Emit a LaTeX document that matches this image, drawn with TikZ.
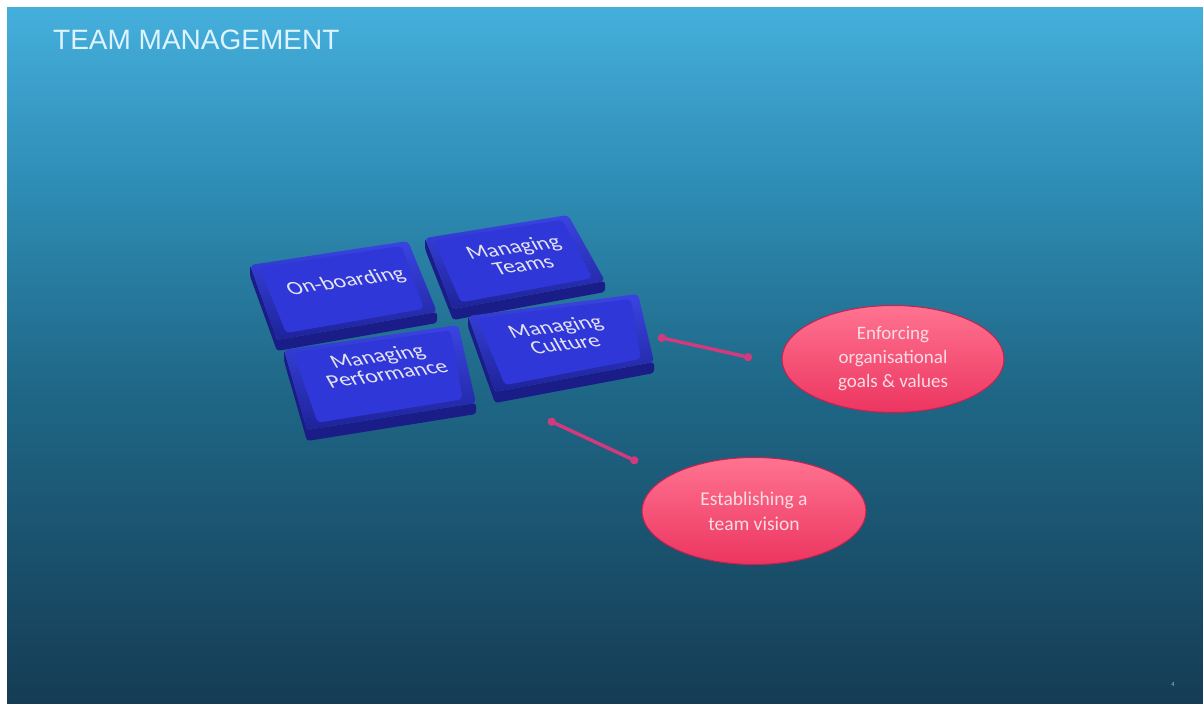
\documentclass[tikz,border=0pt]{standalone}
\usepackage{fontspec}
\setmainfont{Carlito}
\newfontfamily\titlefont{Liberation Sans}
\usetikzlibrary{shapes.geometric,arrows.meta,calc}

\definecolor{bgtop}{HTML}{45AFDC}
\definecolor{bgup}{HTML}{2E8CB4}
\definecolor{bgmid}{HTML}{1F6888}
\definecolor{bgbot}{HTML}{153C54}
\definecolor{slabtopc}{HTML}{3037D8}
\definecolor{slabedgehi}{HTML}{3A44E2}
\definecolor{slabedgelo}{HTML}{1E2399}
\definecolor{slabsidec}{HTML}{1A1D88}
\definecolor{slabtxt}{HTML}{E4E4F0}
\definecolor{ellhi}{HTML}{FF7390}
\definecolor{elllo}{HTML}{EC3560}
\definecolor{ellborder}{HTML}{C8204F}
\definecolor{elltxt}{HTML}{FADCE4}
\definecolor{conncol}{HTML}{D23A7E}
\definecolor{titlecol}{HTML}{DDF3FF}
\definecolor{numcol}{HTML}{8FBCD2}

\pgfdeclareverticalshading{slidebg}{100bp}{color(0bp)=(bgbot); color(25bp)=(bgbot); color(48bp)=(bgmid); color(62bp)=(bgup); color(75bp)=(bgtop); color(100bp)=(bgtop)}

\newcommand\slab[6]{%
  \coordinate (#1-tl) at #2;
  \coordinate (#1-tr) at #3;
  \coordinate (#1-br) at #4;
  \coordinate (#1-bl) at #5;
  \fill[slabside] (#1-tl) -- (#1-bl) -- (#1-br) -- ($(#1-br)+(0,#6)$) -- ($(#1-bl)+(0,#6)$) -- ($(#1-tl)+(0,#6)$) -- cycle;
  \path[slabedge] (#1-tl) -- (#1-tr) -- (#1-br) -- (#1-bl) -- cycle;
  \fill[slabtop] ($(#1-tl)!0.05!(#1-br)$) -- ($(#1-tr)!0.05!(#1-bl)$) -- ($(#1-br)!0.07!(#1-tl)$) -- ($(#1-bl)!0.07!(#1-tr)$) -- cycle;
}

\begin{document}
\begin{tikzpicture}[x=1pt,y=-1pt,
  slabside/.style={fill=slabsidec,rounded corners=3pt},
  slabedge/.style={top color=slabedgehi,bottom color=slabedgelo,rounded corners=4pt},
  slabtop/.style={fill=slabtopc,rounded corners=4pt},
  slabtext/.style={transform shape,text=slabtxt,font=\fontsize{23}{22}\selectfont,align=center,inner sep=0pt},
  ell/.style={ellipse,minimum width=222pt,minimum height=107pt,inner sep=0pt,draw=ellborder,line width=1pt,top color=ellhi,bottom color=elllo,text=elltxt,align=center},
  conn/.style={draw=conncol,line width=3.5pt,{Circle[length=8pt]}-{Circle[length=8pt]}}
]
\useasboundingbox (0,0) rectangle (1203,704);
\fill[white] (0,0) rectangle (1203,704);
\shade[shading=slidebg] (7,7) rectangle (1203,704);

\node[anchor=base west,font=\titlefont\fontsize{28}{28}\selectfont,text=titlecol,inner sep=0pt] (title) at (53,49) {TEAM MANAGEMENT};

% slabs (back to front)
\slab{teams}{(425,238)}{(568,215)}{(605,281)}{(453,309)}{11}
\slab{onb}{(250,265)}{(408,241)}{(437,312)}{(277,340)}{11}
\slab{cult}{(468,316)}{(638,294)}{(654,362)}{(495,392)}{11}
\slab{perf}{(284,350)}{(458,325)}{(476,403)}{(307,430)}{11}

\begin{scope}[shift={(346,282)},cm={0.99,0.14,-0.45,0.8,(0,0)}]
  \node[slabtext] (onbtext) {On-boarding};
\end{scope}
\begin{scope}[shift={(518,256)},cm={0.99,0.14,-0.45,0.8,(0,0)}]
  \node[slabtext] (teamstext) {Managing\\Teams};
\end{scope}
\begin{scope}[shift={(382,365)},cm={0.99,0.14,-0.45,0.8,(0,0)}]
  \node[slabtext] (perftext) {Managing\\Performance};
\end{scope}
\begin{scope}[shift={(560,335)},cm={0.99,0.12,-0.45,0.8,(0,0)}]
  \node[slabtext] (culttext) {Managing\\Culture};
\end{scope}

% ellipses
\node[ell,font=\fontsize{19}{24}\selectfont] (enf) at (893,359) {Enforcing\\organisational\\goals \& values};
\node[ell,minimum width=224pt,font=\fontsize{19.5}{25}\selectfont] (vis) at (754,511) {Establishing a\\team vision};

% connectors
\coordinate (a1s) at (658,337);
\coordinate (a1e) at (752,358);
\coordinate (a2s) at (548,420);
\coordinate (a2e) at (638,462);
\draw[conn] (a1s) -- (a1e);
\draw[conn] (a2s) -- (a2e);

\node[font=\titlefont\fontsize{6}{6}\selectfont,text=numcol,inner sep=0pt] (pnum) at (1173,684) {4};
\end{tikzpicture}
\end{document}
